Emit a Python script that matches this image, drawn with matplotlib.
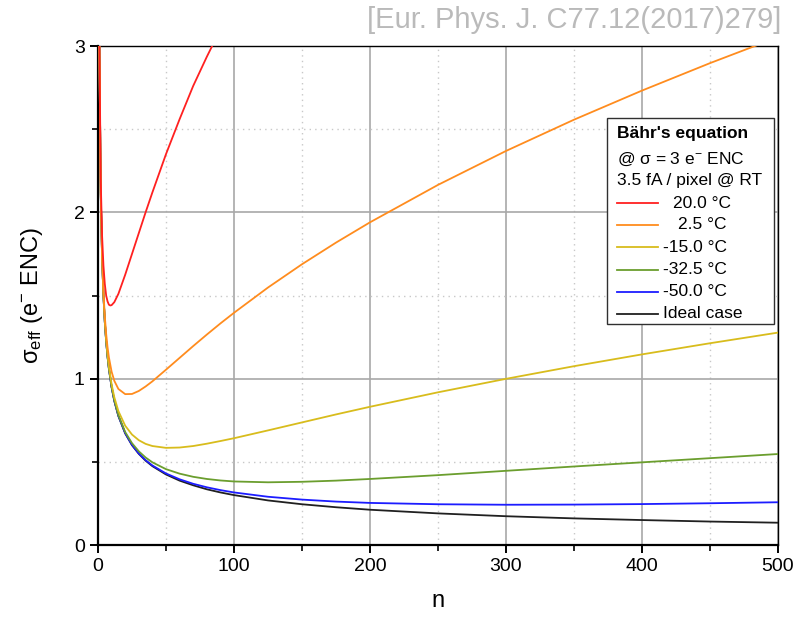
import matplotlib
matplotlib.use('Agg')
import matplotlib.pyplot as plt
from matplotlib.lines import Line2D
from matplotlib.patches import Rectangle
from matplotlib.ticker import MultipleLocator

plt.rcParams['font.family'] = ['Liberation Sans', 'DejaVu Sans']
plt.rcParams['mathtext.fontset'] = 'custom'
plt.rcParams['mathtext.rm'] = 'Liberation Sans'
plt.rcParams['mathtext.it'] = 'Liberation Sans:italic'

# number of averaged samples
n = [1, 2, 3, 4, 5, 6, 7, 8, 10, 12, 15, 20, 25, 30, 35, 40, 50, 60, 70, 80, 90,
     100, 125, 150, 175, 200, 250, 300, 350, 400, 450, 500]

# sigma_eff (e- ENC)
ideal = [3.000, 2.121, 1.732, 1.500, 1.342, 1.225, 1.134, 1.061, 0.949, 0.866,
         0.775, 0.671, 0.600, 0.548, 0.507, 0.474, 0.424, 0.387, 0.359, 0.335, 0.316,
         0.300, 0.268, 0.245, 0.227, 0.212, 0.190, 0.173, 0.160, 0.150, 0.141, 0.134]
t_m50 = [3.000, 2.121, 1.732, 1.500, 1.342, 1.225, 1.134, 1.061, 0.949, 0.867,
         0.776, 0.672, 0.602, 0.550, 0.510, 0.478, 0.430, 0.395, 0.368, 0.347, 0.330,
         0.316, 0.290, 0.273, 0.261, 0.253, 0.245, 0.242, 0.243, 0.246, 0.251, 0.257]
t_m325 = [3.000, 2.122, 1.733, 1.501, 1.343, 1.226, 1.136, 1.063, 0.952, 0.870,
          0.780, 0.679, 0.612, 0.563, 0.526, 0.497, 0.456, 0.429, 0.410, 0.397, 0.388,
          0.382, 0.377, 0.380, 0.387, 0.397, 0.420, 0.446, 0.472, 0.497, 0.522, 0.547]
t_m15 = [3.001, 2.123, 1.735, 1.504, 1.348, 1.233, 1.144, 1.073, 0.966, 0.888,
         0.805, 0.717, 0.664, 0.630, 0.608, 0.595, 0.584, 0.586, 0.595, 0.609, 0.625,
         0.642, 0.689, 0.737, 0.785, 0.831, 0.918, 0.999, 1.075, 1.146, 1.213, 1.277]
t_25 = [3.003, 2.130, 1.748, 1.525, 1.376, 1.269, 1.190, 1.129, 1.042, 0.987,
        0.938, 0.907, 0.908, 0.926, 0.953, 0.984, 1.054, 1.125, 1.196, 1.265, 1.332,
        1.396, 1.548, 1.688, 1.818, 1.940, 2.165, 2.369, 2.557, 2.732, 2.897, 3.053]
n_red = [1, 2, 3, 4, 5, 6, 7, 8, 9, 10, 12, 15, 20, 25, 30, 35, 40, 50, 60, 70, 80, 90]
t_20 = [3.05, 2.20, 1.86, 1.68, 1.57, 1.50, 1.465, 1.445, 1.44, 1.442, 1.46,
        1.51, 1.625, 1.75, 1.875, 2.00, 2.12, 2.35, 2.56, 2.76, 2.935, 3.10]

labels = ['20.0 °C', '2.5 °C', '-15.0 °C', '-32.5 °C', '-50.0 °C', 'Ideal case']
colors = ['#ff2020', '#ff8c1e', '#d8bc1c', '#6b9e2e', '#1c1cff', '#202020']

fig = plt.figure(figsize=(7.94, 6.19), dpi=100)
ax = fig.add_axes([98/794, 1-545/619, 680/794, 499/619])

series = [(n_red, t_20), (n, t_25), (n, t_m15), (n, t_m325), (n, t_m50), (n, ideal)]
for (xs, ys), c in reversed(list(zip(series, colors))):
    ax.plot(xs, ys, color=c, lw=1.3, zorder=3)

ax.set_xlim(0, 500)
ax.set_ylim(0, 3)
ax.xaxis.set_major_locator(MultipleLocator(100))
ax.xaxis.set_minor_locator(MultipleLocator(50))
ax.yaxis.set_major_locator(MultipleLocator(1))
ax.yaxis.set_minor_locator(MultipleLocator(0.5))
ax.grid(which='major', color='#a8a8a8', lw=1.2, ls='-')
ax.grid(which='minor', color='#c8c8c8', lw=1.0, ls=(0, (1, 3)))
ax.set_axisbelow(True)
ax.tick_params(which='major', direction='out', length=6, width=1.4, labelsize=14,
               top=False, right=False)
ax.tick_params(which='minor', direction='out', length=4, width=1.2,
               top=False, right=False)
for s in ['left', 'bottom']:
    ax.spines[s].set_linewidth(1.6)
for s in ['top', 'right']:
    ax.spines[s].set_linewidth(1.0)

ax.set_xlabel('n', fontsize=17, labelpad=11)
ax.set_ylabel('σ$_{\\mathrm{eff}}$ (e$^{-}$ ENC)', fontsize=17, labelpad=21)

# legend box drawn by hand (header lines + curve entries)
def fp(x, y):
    return (x / 794, 1 - y / 619)

fs = 12.5
fig.patches.append(Rectangle(fp(607, 324), 167/794, 206/619, transform=fig.transFigure,
                             facecolor='white', edgecolor='#303030', lw=1.0, zorder=5))
fig.text(*fp(617, 133), "Bähr's equation", fontsize=fs, fontweight='bold',
         va='center', zorder=6)
fig.text(*fp(617, 159), '@ σ = 3 e$^{-}$ ENC', fontsize=fs, va='center', zorder=6)
fig.text(*fp(617, 181), '3.5 fA / pixel @ RT', fontsize=fs, va='center', zorder=6)
rows = [203, 225, 247, 270, 292, 314]
text_x = [673, 678, 663, 663, 663, 663]
for lab, c, y, tx in zip(labels, colors, rows, text_x):
    fig.add_artist(Line2D([617/794, 658/794], [1-y/619, 1-y/619], color=c, lw=1.3,
                          transform=fig.transFigure, zorder=6))
    fig.text(*fp(tx, y), lab, fontsize=fs, va='center', zorder=6)

fig.text(*fp(781, 20), '[Eur. Phys. J. C77.12(2017)279]', fontsize=21,
         color='#bababa', ha='right', va='center')

fig.savefig('out.png', dpi=100)
